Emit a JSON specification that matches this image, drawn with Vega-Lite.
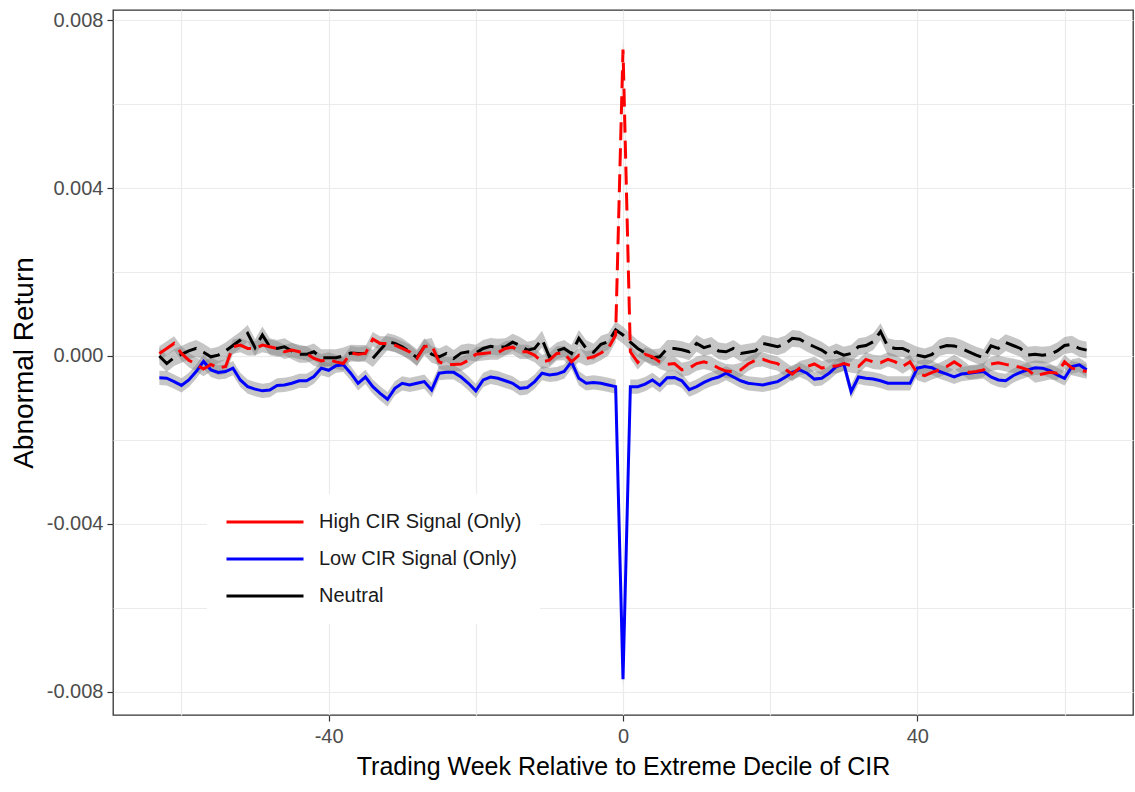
{
"$schema": "https://vega.github.io/schema/vega-lite/v6.json",
"width": 1020, "height": 705,
"autosize": "none",
"padding": {"left": 113, "top": 10, "right": 2, "bottom": 77},
"background": "white",
"config": {"view": {"stroke": "#333333", "strokeWidth": 1.3}, "font": "Liberation Sans"},
"data": {"values": [
{"w":-63,"s":"Low CIR Signal (Only)","v":-52e-5,"lo":-69e-5,"hi":-35e-5},
{"w":-62,"s":"Low CIR Signal (Only)","v":-53e-5,"lo":-70e-5,"hi":-36e-5},
{"w":-61,"s":"Low CIR Signal (Only)","v":-61e-5,"lo":-78e-5,"hi":-44e-5},
{"w":-60,"s":"Low CIR Signal (Only)","v":-70e-5,"lo":-87e-5,"hi":-53e-5},
{"w":-59,"s":"Low CIR Signal (Only)","v":-57e-5,"lo":-74e-5,"hi":-40e-5},
{"w":-58,"s":"Low CIR Signal (Only)","v":-37e-5,"lo":-54e-5,"hi":-20e-5},
{"w":-57,"s":"Low CIR Signal (Only)","v":-13e-5,"lo":-30e-5,"hi":4e-5},
{"w":-56,"s":"Low CIR Signal (Only)","v":-33e-5,"lo":-50e-5,"hi":-16e-5},
{"w":-55,"s":"Low CIR Signal (Only)","v":-39e-5,"lo":-56e-5,"hi":-22e-5},
{"w":-54,"s":"Low CIR Signal (Only)","v":-37e-5,"lo":-54e-5,"hi":-20e-5},
{"w":-53,"s":"Low CIR Signal (Only)","v":-29e-5,"lo":-46e-5,"hi":-12e-5},
{"w":-52,"s":"Low CIR Signal (Only)","v":-57e-5,"lo":-74e-5,"hi":-40e-5},
{"w":-51,"s":"Low CIR Signal (Only)","v":-73e-5,"lo":-90e-5,"hi":-56e-5},
{"w":-50,"s":"Low CIR Signal (Only)","v":-79e-5,"lo":-96e-5,"hi":-62e-5},
{"w":-49,"s":"Low CIR Signal (Only)","v":-83e-5,"lo":-100e-5,"hi":-66e-5},
{"w":-48,"s":"Low CIR Signal (Only)","v":-81e-5,"lo":-98e-5,"hi":-64e-5},
{"w":-47,"s":"Low CIR Signal (Only)","v":-70e-5,"lo":-87e-5,"hi":-53e-5},
{"w":-46,"s":"Low CIR Signal (Only)","v":-69e-5,"lo":-86e-5,"hi":-52e-5},
{"w":-45,"s":"Low CIR Signal (Only)","v":-65e-5,"lo":-82e-5,"hi":-48e-5},
{"w":-44,"s":"Low CIR Signal (Only)","v":-59e-5,"lo":-76e-5,"hi":-42e-5},
{"w":-43,"s":"Low CIR Signal (Only)","v":-59e-5,"lo":-76e-5,"hi":-42e-5},
{"w":-42,"s":"Low CIR Signal (Only)","v":-49e-5,"lo":-66e-5,"hi":-32e-5},
{"w":-41,"s":"Low CIR Signal (Only)","v":-29e-5,"lo":-46e-5,"hi":-12e-5},
{"w":-40,"s":"Low CIR Signal (Only)","v":-34e-5,"lo":-51e-5,"hi":-17e-5},
{"w":-39,"s":"Low CIR Signal (Only)","v":-23e-5,"lo":-40e-5,"hi":-6e-5},
{"w":-38,"s":"Low CIR Signal (Only)","v":-21e-5,"lo":-38e-5,"hi":-4e-5},
{"w":-37,"s":"Low CIR Signal (Only)","v":-41e-5,"lo":-58e-5,"hi":-24e-5},
{"w":-36,"s":"Low CIR Signal (Only)","v":-65e-5,"lo":-82e-5,"hi":-48e-5},
{"w":-35,"s":"Low CIR Signal (Only)","v":-50e-5,"lo":-67e-5,"hi":-33e-5},
{"w":-34,"s":"Low CIR Signal (Only)","v":-73e-5,"lo":-90e-5,"hi":-56e-5},
{"w":-33,"s":"Low CIR Signal (Only)","v":-89e-5,"lo":-106e-5,"hi":-72e-5},
{"w":-32,"s":"Low CIR Signal (Only)","v":-103e-5,"lo":-120e-5,"hi":-86e-5},
{"w":-31,"s":"Low CIR Signal (Only)","v":-77e-5,"lo":-94e-5,"hi":-60e-5},
{"w":-30,"s":"Low CIR Signal (Only)","v":-65e-5,"lo":-82e-5,"hi":-48e-5},
{"w":-29,"s":"Low CIR Signal (Only)","v":-69e-5,"lo":-86e-5,"hi":-52e-5},
{"w":-28,"s":"Low CIR Signal (Only)","v":-65e-5,"lo":-82e-5,"hi":-48e-5},
{"w":-27,"s":"Low CIR Signal (Only)","v":-61e-5,"lo":-78e-5,"hi":-44e-5},
{"w":-26,"s":"Low CIR Signal (Only)","v":-81e-5,"lo":-98e-5,"hi":-64e-5},
{"w":-25,"s":"Low CIR Signal (Only)","v":-41e-5,"lo":-58e-5,"hi":-24e-5},
{"w":-24,"s":"Low CIR Signal (Only)","v":-39e-5,"lo":-56e-5,"hi":-22e-5},
{"w":-23,"s":"Low CIR Signal (Only)","v":-39e-5,"lo":-56e-5,"hi":-22e-5},
{"w":-22,"s":"Low CIR Signal (Only)","v":-50e-5,"lo":-67e-5,"hi":-33e-5},
{"w":-21,"s":"Low CIR Signal (Only)","v":-65e-5,"lo":-82e-5,"hi":-48e-5},
{"w":-20,"s":"Low CIR Signal (Only)","v":-83e-5,"lo":-100e-5,"hi":-66e-5},
{"w":-19,"s":"Low CIR Signal (Only)","v":-57e-5,"lo":-74e-5,"hi":-40e-5},
{"w":-18,"s":"Low CIR Signal (Only)","v":-50e-5,"lo":-67e-5,"hi":-33e-5},
{"w":-17,"s":"Low CIR Signal (Only)","v":-53e-5,"lo":-70e-5,"hi":-36e-5},
{"w":-16,"s":"Low CIR Signal (Only)","v":-59e-5,"lo":-76e-5,"hi":-42e-5},
{"w":-15,"s":"Low CIR Signal (Only)","v":-65e-5,"lo":-82e-5,"hi":-48e-5},
{"w":-14,"s":"Low CIR Signal (Only)","v":-77e-5,"lo":-94e-5,"hi":-60e-5},
{"w":-13,"s":"Low CIR Signal (Only)","v":-75e-5,"lo":-92e-5,"hi":-58e-5},
{"w":-12,"s":"Low CIR Signal (Only)","v":-61e-5,"lo":-78e-5,"hi":-44e-5},
{"w":-11,"s":"Low CIR Signal (Only)","v":-41e-5,"lo":-58e-5,"hi":-24e-5},
{"w":-10,"s":"Low CIR Signal (Only)","v":-45e-5,"lo":-62e-5,"hi":-28e-5},
{"w":-9,"s":"Low CIR Signal (Only)","v":-43e-5,"lo":-60e-5,"hi":-26e-5},
{"w":-8,"s":"Low CIR Signal (Only)","v":-37e-5,"lo":-54e-5,"hi":-20e-5},
{"w":-7,"s":"Low CIR Signal (Only)","v":-14e-5,"lo":-31e-5,"hi":3e-5},
{"w":-6,"s":"Low CIR Signal (Only)","v":-53e-5,"lo":-70e-5,"hi":-36e-5},
{"w":-5,"s":"Low CIR Signal (Only)","v":-65e-5,"lo":-82e-5,"hi":-48e-5},
{"w":-4,"s":"Low CIR Signal (Only)","v":-63e-5,"lo":-80e-5,"hi":-46e-5},
{"w":-3,"s":"Low CIR Signal (Only)","v":-65e-5,"lo":-82e-5,"hi":-48e-5},
{"w":-2,"s":"Low CIR Signal (Only)","v":-69e-5,"lo":-86e-5,"hi":-52e-5},
{"w":-1,"s":"Low CIR Signal (Only)","v":-73e-5,"lo":-90e-5,"hi":-56e-5},
{"w":0,"s":"Low CIR Signal (Only)","v":-770e-5,"lo":-790e-5,"hi":-750e-5},
{"w":1,"s":"Low CIR Signal (Only)","v":-73e-5,"lo":-90e-5,"hi":-56e-5},
{"w":2,"s":"Low CIR Signal (Only)","v":-73e-5,"lo":-90e-5,"hi":-56e-5},
{"w":3,"s":"Low CIR Signal (Only)","v":-67e-5,"lo":-84e-5,"hi":-50e-5},
{"w":4,"s":"Low CIR Signal (Only)","v":-57e-5,"lo":-74e-5,"hi":-40e-5},
{"w":5,"s":"Low CIR Signal (Only)","v":-70e-5,"lo":-87e-5,"hi":-53e-5},
{"w":6,"s":"Low CIR Signal (Only)","v":-52e-5,"lo":-69e-5,"hi":-35e-5},
{"w":7,"s":"Low CIR Signal (Only)","v":-51e-5,"lo":-68e-5,"hi":-34e-5},
{"w":8,"s":"Low CIR Signal (Only)","v":-59e-5,"lo":-76e-5,"hi":-42e-5},
{"w":9,"s":"Low CIR Signal (Only)","v":-80e-5,"lo":-97e-5,"hi":-63e-5},
{"w":10,"s":"Low CIR Signal (Only)","v":-73e-5,"lo":-90e-5,"hi":-56e-5},
{"w":11,"s":"Low CIR Signal (Only)","v":-63e-5,"lo":-80e-5,"hi":-46e-5},
{"w":12,"s":"Low CIR Signal (Only)","v":-55e-5,"lo":-72e-5,"hi":-38e-5},
{"w":13,"s":"Low CIR Signal (Only)","v":-50e-5,"lo":-67e-5,"hi":-33e-5},
{"w":14,"s":"Low CIR Signal (Only)","v":-41e-5,"lo":-58e-5,"hi":-24e-5},
{"w":15,"s":"Low CIR Signal (Only)","v":-50e-5,"lo":-67e-5,"hi":-33e-5},
{"w":16,"s":"Low CIR Signal (Only)","v":-59e-5,"lo":-76e-5,"hi":-42e-5},
{"w":17,"s":"Low CIR Signal (Only)","v":-65e-5,"lo":-82e-5,"hi":-48e-5},
{"w":18,"s":"Low CIR Signal (Only)","v":-67e-5,"lo":-84e-5,"hi":-50e-5},
{"w":19,"s":"Low CIR Signal (Only)","v":-69e-5,"lo":-86e-5,"hi":-52e-5},
{"w":20,"s":"Low CIR Signal (Only)","v":-65e-5,"lo":-82e-5,"hi":-48e-5},
{"w":21,"s":"Low CIR Signal (Only)","v":-61e-5,"lo":-78e-5,"hi":-44e-5},
{"w":22,"s":"Low CIR Signal (Only)","v":-51e-5,"lo":-68e-5,"hi":-34e-5},
{"w":23,"s":"Low CIR Signal (Only)","v":-39e-5,"lo":-56e-5,"hi":-22e-5},
{"w":24,"s":"Low CIR Signal (Only)","v":-33e-5,"lo":-50e-5,"hi":-16e-5},
{"w":25,"s":"Low CIR Signal (Only)","v":-41e-5,"lo":-58e-5,"hi":-24e-5},
{"w":26,"s":"Low CIR Signal (Only)","v":-55e-5,"lo":-72e-5,"hi":-38e-5},
{"w":27,"s":"Low CIR Signal (Only)","v":-53e-5,"lo":-70e-5,"hi":-36e-5},
{"w":28,"s":"Low CIR Signal (Only)","v":-41e-5,"lo":-58e-5,"hi":-24e-5},
{"w":29,"s":"Low CIR Signal (Only)","v":-25e-5,"lo":-42e-5,"hi":-8e-5},
{"w":30,"s":"Low CIR Signal (Only)","v":-19e-5,"lo":-36e-5,"hi":-2e-5},
{"w":31,"s":"Low CIR Signal (Only)","v":-85e-5,"lo":-102e-5,"hi":-68e-5},
{"w":32,"s":"Low CIR Signal (Only)","v":-50e-5,"lo":-67e-5,"hi":-33e-5},
{"w":33,"s":"Low CIR Signal (Only)","v":-53e-5,"lo":-70e-5,"hi":-36e-5},
{"w":34,"s":"Low CIR Signal (Only)","v":-55e-5,"lo":-72e-5,"hi":-38e-5},
{"w":35,"s":"Low CIR Signal (Only)","v":-59e-5,"lo":-76e-5,"hi":-42e-5},
{"w":36,"s":"Low CIR Signal (Only)","v":-65e-5,"lo":-82e-5,"hi":-48e-5},
{"w":37,"s":"Low CIR Signal (Only)","v":-65e-5,"lo":-82e-5,"hi":-48e-5},
{"w":38,"s":"Low CIR Signal (Only)","v":-65e-5,"lo":-82e-5,"hi":-48e-5},
{"w":39,"s":"Low CIR Signal (Only)","v":-65e-5,"lo":-82e-5,"hi":-48e-5},
{"w":40,"s":"Low CIR Signal (Only)","v":-29e-5,"lo":-46e-5,"hi":-12e-5},
{"w":41,"s":"Low CIR Signal (Only)","v":-25e-5,"lo":-42e-5,"hi":-8e-5},
{"w":42,"s":"Low CIR Signal (Only)","v":-28e-5,"lo":-45e-5,"hi":-11e-5},
{"w":43,"s":"Low CIR Signal (Only)","v":-37e-5,"lo":-54e-5,"hi":-20e-5},
{"w":44,"s":"Low CIR Signal (Only)","v":-43e-5,"lo":-60e-5,"hi":-26e-5},
{"w":45,"s":"Low CIR Signal (Only)","v":-50e-5,"lo":-67e-5,"hi":-33e-5},
{"w":46,"s":"Low CIR Signal (Only)","v":-43e-5,"lo":-60e-5,"hi":-26e-5},
{"w":47,"s":"Low CIR Signal (Only)","v":-41e-5,"lo":-58e-5,"hi":-24e-5},
{"w":48,"s":"Low CIR Signal (Only)","v":-39e-5,"lo":-56e-5,"hi":-22e-5},
{"w":49,"s":"Low CIR Signal (Only)","v":-37e-5,"lo":-54e-5,"hi":-20e-5},
{"w":50,"s":"Low CIR Signal (Only)","v":-50e-5,"lo":-67e-5,"hi":-33e-5},
{"w":51,"s":"Low CIR Signal (Only)","v":-57e-5,"lo":-74e-5,"hi":-40e-5},
{"w":52,"s":"Low CIR Signal (Only)","v":-59e-5,"lo":-76e-5,"hi":-42e-5},
{"w":53,"s":"Low CIR Signal (Only)","v":-47e-5,"lo":-64e-5,"hi":-30e-5},
{"w":54,"s":"Low CIR Signal (Only)","v":-39e-5,"lo":-56e-5,"hi":-22e-5},
{"w":55,"s":"Low CIR Signal (Only)","v":-33e-5,"lo":-50e-5,"hi":-16e-5},
{"w":56,"s":"Low CIR Signal (Only)","v":-28e-5,"lo":-45e-5,"hi":-11e-5},
{"w":57,"s":"Low CIR Signal (Only)","v":-29e-5,"lo":-46e-5,"hi":-12e-5},
{"w":58,"s":"Low CIR Signal (Only)","v":-35e-5,"lo":-52e-5,"hi":-18e-5},
{"w":59,"s":"Low CIR Signal (Only)","v":-45e-5,"lo":-62e-5,"hi":-28e-5},
{"w":60,"s":"Low CIR Signal (Only)","v":-53e-5,"lo":-70e-5,"hi":-36e-5},
{"w":61,"s":"Low CIR Signal (Only)","v":-25e-5,"lo":-42e-5,"hi":-8e-5},
{"w":62,"s":"Low CIR Signal (Only)","v":-21e-5,"lo":-38e-5,"hi":-4e-5},
{"w":63,"s":"Low CIR Signal (Only)","v":-33e-5,"lo":-50e-5,"hi":-16e-5},
{"w":-63,"s":"Neutral","v":0,"lo":-20e-5,"hi":20e-5},
{"w":-62,"s":"Neutral","v":-18e-5,"lo":-38e-5,"hi":2e-5},
{"w":-61,"s":"Neutral","v":-4e-5,"lo":-24e-5,"hi":16e-5},
{"w":-60,"s":"Neutral","v":4e-5,"lo":-16e-5,"hi":24e-5},
{"w":-59,"s":"Neutral","v":12e-5,"lo":-8e-5,"hi":32e-5},
{"w":-58,"s":"Neutral","v":18e-5,"lo":-2e-5,"hi":38e-5},
{"w":-57,"s":"Neutral","v":9e-5,"lo":-11e-5,"hi":29e-5},
{"w":-56,"s":"Neutral","v":-2e-5,"lo":-22e-5,"hi":18e-5},
{"w":-55,"s":"Neutral","v":2e-5,"lo":-18e-5,"hi":22e-5},
{"w":-54,"s":"Neutral","v":12e-5,"lo":-8e-5,"hi":32e-5},
{"w":-53,"s":"Neutral","v":25e-5,"lo":5e-5,"hi":45e-5},
{"w":-52,"s":"Neutral","v":38e-5,"lo":18e-5,"hi":58e-5},
{"w":-51,"s":"Neutral","v":54e-5,"lo":34e-5,"hi":74e-5},
{"w":-50,"s":"Neutral","v":20e-5,"lo":0,"hi":40e-5},
{"w":-49,"s":"Neutral","v":50e-5,"lo":30e-5,"hi":70e-5},
{"w":-48,"s":"Neutral","v":22e-5,"lo":2e-5,"hi":42e-5},
{"w":-47,"s":"Neutral","v":18e-5,"lo":-2e-5,"hi":38e-5},
{"w":-46,"s":"Neutral","v":22e-5,"lo":2e-5,"hi":42e-5},
{"w":-45,"s":"Neutral","v":12e-5,"lo":-8e-5,"hi":32e-5},
{"w":-44,"s":"Neutral","v":4e-5,"lo":-16e-5,"hi":24e-5},
{"w":-43,"s":"Neutral","v":4e-5,"lo":-16e-5,"hi":24e-5},
{"w":-42,"s":"Neutral","v":10e-5,"lo":-10e-5,"hi":30e-5},
{"w":-41,"s":"Neutral","v":-4e-5,"lo":-24e-5,"hi":16e-5},
{"w":-40,"s":"Neutral","v":-4e-5,"lo":-24e-5,"hi":16e-5},
{"w":-39,"s":"Neutral","v":-4e-5,"lo":-24e-5,"hi":16e-5},
{"w":-38,"s":"Neutral","v":0,"lo":-20e-5,"hi":20e-5},
{"w":-37,"s":"Neutral","v":7e-5,"lo":-13e-5,"hi":27e-5},
{"w":-36,"s":"Neutral","v":6e-5,"lo":-14e-5,"hi":26e-5},
{"w":-35,"s":"Neutral","v":6e-5,"lo":-14e-5,"hi":26e-5},
{"w":-34,"s":"Neutral","v":-6e-5,"lo":-26e-5,"hi":14e-5},
{"w":-33,"s":"Neutral","v":14e-5,"lo":-6e-5,"hi":34e-5},
{"w":-32,"s":"Neutral","v":34e-5,"lo":14e-5,"hi":54e-5},
{"w":-31,"s":"Neutral","v":30e-5,"lo":10e-5,"hi":50e-5},
{"w":-30,"s":"Neutral","v":22e-5,"lo":2e-5,"hi":42e-5},
{"w":-29,"s":"Neutral","v":10e-5,"lo":-10e-5,"hi":30e-5},
{"w":-28,"s":"Neutral","v":-4e-5,"lo":-24e-5,"hi":16e-5},
{"w":-27,"s":"Neutral","v":22e-5,"lo":2e-5,"hi":42e-5},
{"w":-26,"s":"Neutral","v":4e-5,"lo":-16e-5,"hi":24e-5},
{"w":-25,"s":"Neutral","v":-2e-5,"lo":-22e-5,"hi":18e-5},
{"w":-24,"s":"Neutral","v":6e-5,"lo":-14e-5,"hi":26e-5},
{"w":-23,"s":"Neutral","v":-6e-5,"lo":-26e-5,"hi":14e-5},
{"w":-22,"s":"Neutral","v":7e-5,"lo":-13e-5,"hi":27e-5},
{"w":-21,"s":"Neutral","v":10e-5,"lo":-10e-5,"hi":30e-5},
{"w":-20,"s":"Neutral","v":7e-5,"lo":-13e-5,"hi":27e-5},
{"w":-19,"s":"Neutral","v":18e-5,"lo":-2e-5,"hi":38e-5},
{"w":-18,"s":"Neutral","v":23e-5,"lo":3e-5,"hi":43e-5},
{"w":-17,"s":"Neutral","v":21e-5,"lo":1e-5,"hi":41e-5},
{"w":-16,"s":"Neutral","v":22e-5,"lo":2e-5,"hi":42e-5},
{"w":-15,"s":"Neutral","v":33e-5,"lo":13e-5,"hi":53e-5},
{"w":-14,"s":"Neutral","v":25e-5,"lo":5e-5,"hi":45e-5},
{"w":-13,"s":"Neutral","v":14e-5,"lo":-6e-5,"hi":34e-5},
{"w":-12,"s":"Neutral","v":18e-5,"lo":-2e-5,"hi":38e-5},
{"w":-11,"s":"Neutral","v":40e-5,"lo":20e-5,"hi":60e-5},
{"w":-10,"s":"Neutral","v":-2e-5,"lo":-22e-5,"hi":18e-5},
{"w":-9,"s":"Neutral","v":12e-5,"lo":-8e-5,"hi":32e-5},
{"w":-8,"s":"Neutral","v":18e-5,"lo":-2e-5,"hi":38e-5},
{"w":-7,"s":"Neutral","v":6e-5,"lo":-14e-5,"hi":26e-5},
{"w":-6,"s":"Neutral","v":42e-5,"lo":22e-5,"hi":62e-5},
{"w":-5,"s":"Neutral","v":18e-5,"lo":-2e-5,"hi":38e-5},
{"w":-4,"s":"Neutral","v":9e-5,"lo":-11e-5,"hi":29e-5},
{"w":-3,"s":"Neutral","v":28e-5,"lo":8e-5,"hi":48e-5},
{"w":-2,"s":"Neutral","v":34e-5,"lo":14e-5,"hi":54e-5},
{"w":-1,"s":"Neutral","v":62e-5,"lo":42e-5,"hi":82e-5},
{"w":0,"s":"Neutral","v":50e-5,"lo":30e-5,"hi":70e-5},
{"w":1,"s":"Neutral","v":33e-5,"lo":13e-5,"hi":53e-5},
{"w":2,"s":"Neutral","v":18e-5,"lo":-2e-5,"hi":38e-5},
{"w":3,"s":"Neutral","v":7e-5,"lo":-13e-5,"hi":27e-5},
{"w":4,"s":"Neutral","v":-4e-5,"lo":-24e-5,"hi":16e-5},
{"w":5,"s":"Neutral","v":-2e-5,"lo":-22e-5,"hi":18e-5},
{"w":6,"s":"Neutral","v":18e-5,"lo":-2e-5,"hi":38e-5},
{"w":7,"s":"Neutral","v":18e-5,"lo":-2e-5,"hi":38e-5},
{"w":8,"s":"Neutral","v":15e-5,"lo":-5e-5,"hi":35e-5},
{"w":9,"s":"Neutral","v":10e-5,"lo":-10e-5,"hi":30e-5},
{"w":10,"s":"Neutral","v":30e-5,"lo":10e-5,"hi":50e-5},
{"w":11,"s":"Neutral","v":20e-5,"lo":0,"hi":40e-5},
{"w":12,"s":"Neutral","v":25e-5,"lo":5e-5,"hi":45e-5},
{"w":13,"s":"Neutral","v":12e-5,"lo":-8e-5,"hi":32e-5},
{"w":14,"s":"Neutral","v":10e-5,"lo":-10e-5,"hi":30e-5},
{"w":15,"s":"Neutral","v":18e-5,"lo":-2e-5,"hi":38e-5},
{"w":16,"s":"Neutral","v":6e-5,"lo":-14e-5,"hi":26e-5},
{"w":17,"s":"Neutral","v":9e-5,"lo":-11e-5,"hi":29e-5},
{"w":18,"s":"Neutral","v":12e-5,"lo":-8e-5,"hi":32e-5},
{"w":19,"s":"Neutral","v":30e-5,"lo":10e-5,"hi":50e-5},
{"w":20,"s":"Neutral","v":26e-5,"lo":6e-5,"hi":46e-5},
{"w":21,"s":"Neutral","v":22e-5,"lo":2e-5,"hi":42e-5},
{"w":22,"s":"Neutral","v":28e-5,"lo":8e-5,"hi":48e-5},
{"w":23,"s":"Neutral","v":42e-5,"lo":22e-5,"hi":62e-5},
{"w":24,"s":"Neutral","v":40e-5,"lo":20e-5,"hi":60e-5},
{"w":25,"s":"Neutral","v":30e-5,"lo":10e-5,"hi":50e-5},
{"w":26,"s":"Neutral","v":22e-5,"lo":2e-5,"hi":42e-5},
{"w":27,"s":"Neutral","v":14e-5,"lo":-6e-5,"hi":34e-5},
{"w":28,"s":"Neutral","v":2e-5,"lo":-18e-5,"hi":22e-5},
{"w":29,"s":"Neutral","v":10e-5,"lo":-10e-5,"hi":30e-5},
{"w":30,"s":"Neutral","v":2e-5,"lo":-18e-5,"hi":22e-5},
{"w":31,"s":"Neutral","v":6e-5,"lo":-14e-5,"hi":26e-5},
{"w":32,"s":"Neutral","v":22e-5,"lo":2e-5,"hi":42e-5},
{"w":33,"s":"Neutral","v":25e-5,"lo":5e-5,"hi":45e-5},
{"w":34,"s":"Neutral","v":34e-5,"lo":14e-5,"hi":54e-5},
{"w":35,"s":"Neutral","v":58e-5,"lo":38e-5,"hi":78e-5},
{"w":36,"s":"Neutral","v":22e-5,"lo":2e-5,"hi":42e-5},
{"w":37,"s":"Neutral","v":18e-5,"lo":-2e-5,"hi":38e-5},
{"w":38,"s":"Neutral","v":18e-5,"lo":-2e-5,"hi":38e-5},
{"w":39,"s":"Neutral","v":10e-5,"lo":-10e-5,"hi":30e-5},
{"w":40,"s":"Neutral","v":2e-5,"lo":-18e-5,"hi":22e-5},
{"w":41,"s":"Neutral","v":-2e-5,"lo":-22e-5,"hi":18e-5},
{"w":42,"s":"Neutral","v":4e-5,"lo":-16e-5,"hi":24e-5},
{"w":43,"s":"Neutral","v":20e-5,"lo":0,"hi":40e-5},
{"w":44,"s":"Neutral","v":25e-5,"lo":5e-5,"hi":45e-5},
{"w":45,"s":"Neutral","v":24e-5,"lo":4e-5,"hi":44e-5},
{"w":46,"s":"Neutral","v":18e-5,"lo":-2e-5,"hi":38e-5},
{"w":47,"s":"Neutral","v":10e-5,"lo":-10e-5,"hi":30e-5},
{"w":48,"s":"Neutral","v":2e-5,"lo":-18e-5,"hi":22e-5},
{"w":49,"s":"Neutral","v":-4e-5,"lo":-24e-5,"hi":16e-5},
{"w":50,"s":"Neutral","v":24e-5,"lo":4e-5,"hi":44e-5},
{"w":51,"s":"Neutral","v":18e-5,"lo":-2e-5,"hi":38e-5},
{"w":52,"s":"Neutral","v":32e-5,"lo":12e-5,"hi":52e-5},
{"w":53,"s":"Neutral","v":25e-5,"lo":5e-5,"hi":45e-5},
{"w":54,"s":"Neutral","v":18e-5,"lo":-2e-5,"hi":38e-5},
{"w":55,"s":"Neutral","v":2e-5,"lo":-18e-5,"hi":22e-5},
{"w":56,"s":"Neutral","v":4e-5,"lo":-16e-5,"hi":24e-5},
{"w":57,"s":"Neutral","v":2e-5,"lo":-18e-5,"hi":22e-5},
{"w":58,"s":"Neutral","v":4e-5,"lo":-16e-5,"hi":24e-5},
{"w":59,"s":"Neutral","v":12e-5,"lo":-8e-5,"hi":32e-5},
{"w":60,"s":"Neutral","v":25e-5,"lo":5e-5,"hi":45e-5},
{"w":61,"s":"Neutral","v":28e-5,"lo":8e-5,"hi":48e-5},
{"w":62,"s":"Neutral","v":18e-5,"lo":-2e-5,"hi":38e-5},
{"w":63,"s":"Neutral","v":14e-5,"lo":-6e-5,"hi":34e-5},
{"w":-63,"s":"High CIR Signal (Only)","v":6e-5,"lo":-11e-5,"hi":23e-5},
{"w":-62,"s":"High CIR Signal (Only)","v":18e-5,"lo":1e-5,"hi":35e-5},
{"w":-61,"s":"High CIR Signal (Only)","v":30e-5,"lo":13e-5,"hi":47e-5},
{"w":-60,"s":"High CIR Signal (Only)","v":6e-5,"lo":-11e-5,"hi":23e-5},
{"w":-59,"s":"High CIR Signal (Only)","v":-10e-5,"lo":-27e-5,"hi":7e-5},
{"w":-58,"s":"High CIR Signal (Only)","v":-20e-5,"lo":-37e-5,"hi":-3e-5},
{"w":-57,"s":"High CIR Signal (Only)","v":-31e-5,"lo":-48e-5,"hi":-14e-5},
{"w":-56,"s":"High CIR Signal (Only)","v":-20e-5,"lo":-37e-5,"hi":-3e-5},
{"w":-55,"s":"High CIR Signal (Only)","v":-29e-5,"lo":-46e-5,"hi":-12e-5},
{"w":-54,"s":"High CIR Signal (Only)","v":-25e-5,"lo":-42e-5,"hi":-8e-5},
{"w":-53,"s":"High CIR Signal (Only)","v":22e-5,"lo":5e-5,"hi":39e-5},
{"w":-52,"s":"High CIR Signal (Only)","v":26e-5,"lo":9e-5,"hi":43e-5},
{"w":-51,"s":"High CIR Signal (Only)","v":18e-5,"lo":1e-5,"hi":35e-5},
{"w":-50,"s":"High CIR Signal (Only)","v":18e-5,"lo":1e-5,"hi":35e-5},
{"w":-49,"s":"High CIR Signal (Only)","v":26e-5,"lo":9e-5,"hi":43e-5},
{"w":-48,"s":"High CIR Signal (Only)","v":22e-5,"lo":5e-5,"hi":39e-5},
{"w":-47,"s":"High CIR Signal (Only)","v":18e-5,"lo":1e-5,"hi":35e-5},
{"w":-46,"s":"High CIR Signal (Only)","v":10e-5,"lo":-7e-5,"hi":27e-5},
{"w":-45,"s":"High CIR Signal (Only)","v":14e-5,"lo":-3e-5,"hi":31e-5},
{"w":-44,"s":"High CIR Signal (Only)","v":10e-5,"lo":-7e-5,"hi":27e-5},
{"w":-43,"s":"High CIR Signal (Only)","v":6e-5,"lo":-11e-5,"hi":23e-5},
{"w":-42,"s":"High CIR Signal (Only)","v":-6e-5,"lo":-23e-5,"hi":11e-5},
{"w":-41,"s":"High CIR Signal (Only)","v":-12e-5,"lo":-29e-5,"hi":5e-5},
{"w":-40,"s":"High CIR Signal (Only)","v":-8e-5,"lo":-25e-5,"hi":9e-5},
{"w":-39,"s":"High CIR Signal (Only)","v":-14e-5,"lo":-31e-5,"hi":3e-5},
{"w":-38,"s":"High CIR Signal (Only)","v":-18e-5,"lo":-35e-5,"hi":-1e-5},
{"w":-37,"s":"High CIR Signal (Only)","v":7e-5,"lo":-10e-5,"hi":24e-5},
{"w":-36,"s":"High CIR Signal (Only)","v":4e-5,"lo":-13e-5,"hi":21e-5},
{"w":-35,"s":"High CIR Signal (Only)","v":6e-5,"lo":-11e-5,"hi":23e-5},
{"w":-34,"s":"High CIR Signal (Only)","v":40e-5,"lo":23e-5,"hi":57e-5},
{"w":-33,"s":"High CIR Signal (Only)","v":30e-5,"lo":13e-5,"hi":47e-5},
{"w":-32,"s":"High CIR Signal (Only)","v":30e-5,"lo":13e-5,"hi":47e-5},
{"w":-31,"s":"High CIR Signal (Only)","v":26e-5,"lo":9e-5,"hi":43e-5},
{"w":-30,"s":"High CIR Signal (Only)","v":18e-5,"lo":1e-5,"hi":35e-5},
{"w":-29,"s":"High CIR Signal (Only)","v":10e-5,"lo":-7e-5,"hi":27e-5},
{"w":-28,"s":"High CIR Signal (Only)","v":-6e-5,"lo":-23e-5,"hi":11e-5},
{"w":-27,"s":"High CIR Signal (Only)","v":22e-5,"lo":5e-5,"hi":39e-5},
{"w":-26,"s":"High CIR Signal (Only)","v":26e-5,"lo":9e-5,"hi":43e-5},
{"w":-25,"s":"High CIR Signal (Only)","v":-14e-5,"lo":-31e-5,"hi":3e-5},
{"w":-24,"s":"High CIR Signal (Only)","v":-20e-5,"lo":-37e-5,"hi":-3e-5},
{"w":-23,"s":"High CIR Signal (Only)","v":-20e-5,"lo":-37e-5,"hi":-3e-5},
{"w":-22,"s":"High CIR Signal (Only)","v":-19e-5,"lo":-36e-5,"hi":-2e-5},
{"w":-21,"s":"High CIR Signal (Only)","v":-10e-5,"lo":-27e-5,"hi":7e-5},
{"w":-20,"s":"High CIR Signal (Only)","v":4e-5,"lo":-13e-5,"hi":21e-5},
{"w":-19,"s":"High CIR Signal (Only)","v":6e-5,"lo":-11e-5,"hi":23e-5},
{"w":-18,"s":"High CIR Signal (Only)","v":8e-5,"lo":-9e-5,"hi":25e-5},
{"w":-17,"s":"High CIR Signal (Only)","v":8e-5,"lo":-9e-5,"hi":25e-5},
{"w":-16,"s":"High CIR Signal (Only)","v":18e-5,"lo":1e-5,"hi":35e-5},
{"w":-15,"s":"High CIR Signal (Only)","v":21e-5,"lo":4e-5,"hi":38e-5},
{"w":-14,"s":"High CIR Signal (Only)","v":10e-5,"lo":-7e-5,"hi":27e-5},
{"w":-13,"s":"High CIR Signal (Only)","v":10e-5,"lo":-7e-5,"hi":27e-5},
{"w":-12,"s":"High CIR Signal (Only)","v":2e-5,"lo":-15e-5,"hi":19e-5},
{"w":-11,"s":"High CIR Signal (Only)","v":-14e-5,"lo":-31e-5,"hi":3e-5},
{"w":-10,"s":"High CIR Signal (Only)","v":-10e-5,"lo":-27e-5,"hi":7e-5},
{"w":-9,"s":"High CIR Signal (Only)","v":6e-5,"lo":-11e-5,"hi":23e-5},
{"w":-8,"s":"High CIR Signal (Only)","v":7e-5,"lo":-10e-5,"hi":24e-5},
{"w":-7,"s":"High CIR Signal (Only)","v":-14e-5,"lo":-31e-5,"hi":3e-5},
{"w":-6,"s":"High CIR Signal (Only)","v":2e-5,"lo":-15e-5,"hi":19e-5},
{"w":-5,"s":"High CIR Signal (Only)","v":-6e-5,"lo":-23e-5,"hi":11e-5},
{"w":-4,"s":"High CIR Signal (Only)","v":-2e-5,"lo":-19e-5,"hi":15e-5},
{"w":-3,"s":"High CIR Signal (Only)","v":7e-5,"lo":-10e-5,"hi":24e-5},
{"w":-2,"s":"High CIR Signal (Only)","v":18e-5,"lo":1e-5,"hi":35e-5},
{"w":-1,"s":"High CIR Signal (Only)","v":50e-5,"lo":33e-5,"hi":67e-5},
{"w":0,"s":"High CIR Signal (Only)","v":730e-5,"lo":710e-5,"hi":750e-5},
{"w":1,"s":"High CIR Signal (Only)","v":10e-5,"lo":-7e-5,"hi":27e-5},
{"w":2,"s":"High CIR Signal (Only)","v":-15e-5,"lo":-32e-5,"hi":2e-5},
{"w":3,"s":"High CIR Signal (Only)","v":4e-5,"lo":-13e-5,"hi":21e-5},
{"w":4,"s":"High CIR Signal (Only)","v":-2e-5,"lo":-19e-5,"hi":15e-5},
{"w":5,"s":"High CIR Signal (Only)","v":-14e-5,"lo":-31e-5,"hi":3e-5},
{"w":6,"s":"High CIR Signal (Only)","v":-20e-5,"lo":-37e-5,"hi":-3e-5},
{"w":7,"s":"High CIR Signal (Only)","v":-18e-5,"lo":-35e-5,"hi":-1e-5},
{"w":8,"s":"High CIR Signal (Only)","v":-33e-5,"lo":-50e-5,"hi":-16e-5},
{"w":9,"s":"High CIR Signal (Only)","v":-29e-5,"lo":-46e-5,"hi":-12e-5},
{"w":10,"s":"High CIR Signal (Only)","v":-18e-5,"lo":-35e-5,"hi":-1e-5},
{"w":11,"s":"High CIR Signal (Only)","v":-14e-5,"lo":-31e-5,"hi":3e-5},
{"w":12,"s":"High CIR Signal (Only)","v":-19e-5,"lo":-36e-5,"hi":-2e-5},
{"w":13,"s":"High CIR Signal (Only)","v":-29e-5,"lo":-46e-5,"hi":-12e-5},
{"w":14,"s":"High CIR Signal (Only)","v":-36e-5,"lo":-53e-5,"hi":-19e-5},
{"w":15,"s":"High CIR Signal (Only)","v":-37e-5,"lo":-54e-5,"hi":-20e-5},
{"w":16,"s":"High CIR Signal (Only)","v":-33e-5,"lo":-50e-5,"hi":-16e-5},
{"w":17,"s":"High CIR Signal (Only)","v":-19e-5,"lo":-36e-5,"hi":-2e-5},
{"w":18,"s":"High CIR Signal (Only)","v":-10e-5,"lo":-27e-5,"hi":7e-5},
{"w":19,"s":"High CIR Signal (Only)","v":-8e-5,"lo":-25e-5,"hi":9e-5},
{"w":20,"s":"High CIR Signal (Only)","v":-14e-5,"lo":-31e-5,"hi":3e-5},
{"w":21,"s":"High CIR Signal (Only)","v":-18e-5,"lo":-35e-5,"hi":-1e-5},
{"w":22,"s":"High CIR Signal (Only)","v":-31e-5,"lo":-48e-5,"hi":-14e-5},
{"w":23,"s":"High CIR Signal (Only)","v":-43e-5,"lo":-60e-5,"hi":-26e-5},
{"w":24,"s":"High CIR Signal (Only)","v":-29e-5,"lo":-46e-5,"hi":-12e-5},
{"w":25,"s":"High CIR Signal (Only)","v":-25e-5,"lo":-42e-5,"hi":-8e-5},
{"w":26,"s":"High CIR Signal (Only)","v":-19e-5,"lo":-36e-5,"hi":-2e-5},
{"w":27,"s":"High CIR Signal (Only)","v":-29e-5,"lo":-46e-5,"hi":-12e-5},
{"w":28,"s":"High CIR Signal (Only)","v":-25e-5,"lo":-42e-5,"hi":-8e-5},
{"w":29,"s":"High CIR Signal (Only)","v":-24e-5,"lo":-41e-5,"hi":-7e-5},
{"w":30,"s":"High CIR Signal (Only)","v":-18e-5,"lo":-35e-5,"hi":-1e-5},
{"w":31,"s":"High CIR Signal (Only)","v":-23e-5,"lo":-40e-5,"hi":-6e-5},
{"w":32,"s":"High CIR Signal (Only)","v":-25e-5,"lo":-42e-5,"hi":-8e-5},
{"w":33,"s":"High CIR Signal (Only)","v":-8e-5,"lo":-25e-5,"hi":9e-5},
{"w":34,"s":"High CIR Signal (Only)","v":-14e-5,"lo":-31e-5,"hi":3e-5},
{"w":35,"s":"High CIR Signal (Only)","v":-16e-5,"lo":-33e-5,"hi":1e-5},
{"w":36,"s":"High CIR Signal (Only)","v":-8e-5,"lo":-25e-5,"hi":9e-5},
{"w":37,"s":"High CIR Signal (Only)","v":-14e-5,"lo":-31e-5,"hi":3e-5},
{"w":38,"s":"High CIR Signal (Only)","v":-25e-5,"lo":-42e-5,"hi":-8e-5},
{"w":39,"s":"High CIR Signal (Only)","v":-14e-5,"lo":-31e-5,"hi":3e-5},
{"w":40,"s":"High CIR Signal (Only)","v":-41e-5,"lo":-58e-5,"hi":-24e-5},
{"w":41,"s":"High CIR Signal (Only)","v":-47e-5,"lo":-64e-5,"hi":-30e-5},
{"w":42,"s":"High CIR Signal (Only)","v":-39e-5,"lo":-56e-5,"hi":-22e-5},
{"w":43,"s":"High CIR Signal (Only)","v":-33e-5,"lo":-50e-5,"hi":-16e-5},
{"w":44,"s":"High CIR Signal (Only)","v":-25e-5,"lo":-42e-5,"hi":-8e-5},
{"w":45,"s":"High CIR Signal (Only)","v":-14e-5,"lo":-31e-5,"hi":3e-5},
{"w":46,"s":"High CIR Signal (Only)","v":-25e-5,"lo":-42e-5,"hi":-8e-5},
{"w":47,"s":"High CIR Signal (Only)","v":-39e-5,"lo":-56e-5,"hi":-22e-5},
{"w":48,"s":"High CIR Signal (Only)","v":-37e-5,"lo":-54e-5,"hi":-20e-5},
{"w":49,"s":"High CIR Signal (Only)","v":-33e-5,"lo":-50e-5,"hi":-16e-5},
{"w":50,"s":"High CIR Signal (Only)","v":-19e-5,"lo":-36e-5,"hi":-2e-5},
{"w":51,"s":"High CIR Signal (Only)","v":-16e-5,"lo":-33e-5,"hi":1e-5},
{"w":52,"s":"High CIR Signal (Only)","v":-20e-5,"lo":-37e-5,"hi":-3e-5},
{"w":53,"s":"High CIR Signal (Only)","v":-23e-5,"lo":-40e-5,"hi":-6e-5},
{"w":54,"s":"High CIR Signal (Only)","v":-27e-5,"lo":-44e-5,"hi":-10e-5},
{"w":55,"s":"High CIR Signal (Only)","v":-33e-5,"lo":-50e-5,"hi":-16e-5},
{"w":56,"s":"High CIR Signal (Only)","v":-47e-5,"lo":-64e-5,"hi":-30e-5},
{"w":57,"s":"High CIR Signal (Only)","v":-43e-5,"lo":-60e-5,"hi":-26e-5},
{"w":58,"s":"High CIR Signal (Only)","v":-39e-5,"lo":-56e-5,"hi":-22e-5},
{"w":59,"s":"High CIR Signal (Only)","v":-41e-5,"lo":-58e-5,"hi":-24e-5},
{"w":60,"s":"High CIR Signal (Only)","v":-14e-5,"lo":-31e-5,"hi":3e-5},
{"w":61,"s":"High CIR Signal (Only)","v":-29e-5,"lo":-46e-5,"hi":-12e-5},
{"w":62,"s":"High CIR Signal (Only)","v":-33e-5,"lo":-50e-5,"hi":-16e-5},
{"w":63,"s":"High CIR Signal (Only)","v":-37e-5,"lo":-54e-5,"hi":-20e-5}
]},
"encoding": {
  "x": {"field": "w", "type": "quantitative",
    "scale": {"domain": [-69.3, 69.3], "nice": false, "zero": false},
    "title": "Trading Week Relative to Extreme Decile of CIR",
    "axis": {"values": [-60, -40, -20, 0, 20, 40, 60],
      "labelExpr": "datum.value % 40 === 0 ? (datum.value < 0 ? '-' : '') + abs(datum.value) : ''",
      "grid": true, "gridColor": "#EBEBEB", "gridWidth": 1.2, "domain": false,
      "tickSize": 6, "tickWidth": 1.2, "tickColor": "#333333",
      "tickOpacity": {"condition": {"test": "datum.value % 40 !== 0", "value": 0}, "value": 1},
      "labelFont": "Liberation Sans", "labelFontSize": 20, "labelColor": "#4D4D4D", "labelPadding": 5,
      "titleFont": "Liberation Sans", "titleFontSize": 25, "titleFontWeight": "normal", "titleColor": "#000000", "titlePadding": 8}},
  "y": {"field": "v", "type": "quantitative",
    "scale": {"domain": [-0.00855, 0.00824], "nice": false, "zero": false},
    "title": "Abnormal Return",
    "axis": {"values": [-0.008, -0.006, -0.004, -0.002, 0, 0.002, 0.004, 0.006, 0.008],
      "labelExpr": "abs(round(datum.value*1000)) % 4 === 0 ? (datum.value < -0.0000001 ? '-' : '') + format(abs(datum.value), '.3f') : ''",
      "grid": true, "gridColor": "#EBEBEB", "gridWidth": 1.2, "domain": false,
      "tickSize": 6, "tickWidth": 1.2, "tickColor": "#333333",
      "tickOpacity": {"condition": {"test": "abs(round(datum.value*1000)) % 4 !== 0", "value": 0}, "value": 1},
      "labelFont": "Liberation Sans", "labelFontSize": 20, "labelColor": "#4D4D4D", "labelPadding": 4,
      "titleFont": "Liberation Sans", "titleFontSize": 28, "titleFontWeight": "normal", "titleColor": "#000000", "titlePadding": 8}}
},
"layer": [
  {"mark": {"type": "area", "fill": "#808080", "opacity": 0.45},
   "encoding": {
     "y": {"field": "lo", "type": "quantitative", "title": "Abnormal Return"},
     "y2": {"field": "hi"},
     "detail": {"field": "s", "type": "nominal"}
   }},
  {"transform": [{"filter": "datum.s === 'Low CIR Signal (Only)'"}],
   "mark": {"type": "line", "strokeWidth": 3, "strokeCap": "butt"},
   "encoding": {
     "color": {"field": "s", "type": "nominal",
       "scale": {"domain": ["High CIR Signal (Only)", "Low CIR Signal (Only)", "Neutral"], "range": ["#FF0000", "#0000FF", "#000000"]},
       "legend": {"orient": "none", "legendX": 94, "legendY": 484, "title": null,
         "symbolType": "stroke", "symbolSize": 5929, "symbolStrokeWidth": 3, "symbolDash": [1, 0],
         "clipHeight": 20, "labelLimit": 0,
         "labelFont": "Liberation Sans", "labelFontSize": 20, "labelColor": "#1A1A1A", "labelOffset": 14,
         "fillColor": "white", "padding": 18, "rowPadding": 17}}
   }},
  {"transform": [{"filter": "datum.s !== 'Low CIR Signal (Only)'"}],
   "mark": {"type": "line", "strokeWidth": 3, "strokeCap": "butt", "strokeDash": [18, 8]},
   "encoding": {
     "color": {"field": "s", "type": "nominal",
       "scale": {"domain": ["High CIR Signal (Only)", "Low CIR Signal (Only)", "Neutral"], "range": ["#FF0000", "#0000FF", "#000000"]}}
   }}
]
}
